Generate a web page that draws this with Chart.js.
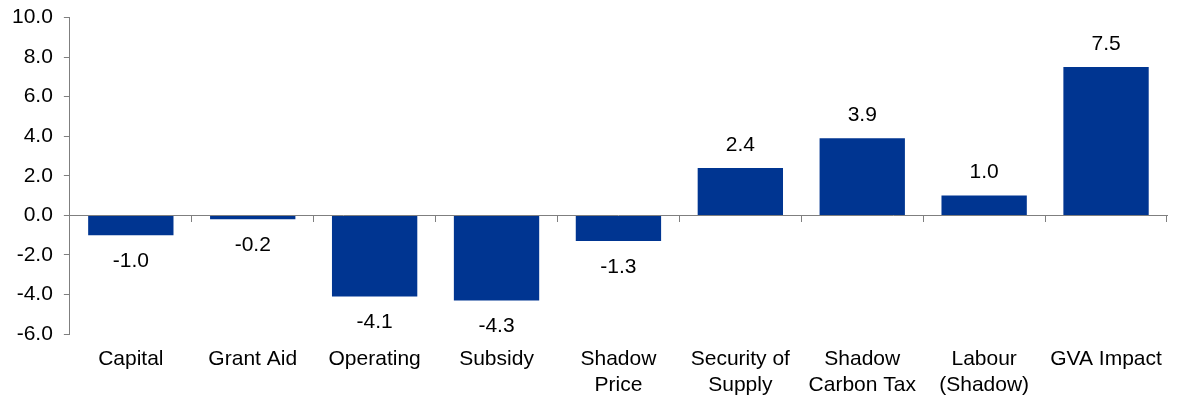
<!DOCTYPE html>
<html>
<head>
<meta charset="utf-8">
<script src="https://cdn.jsdelivr.net/npm/chart.js@4.4.1/dist/chart.umd.min.js"></script>
<style>
  html, body { margin: 0; padding: 0; background: #fff; }
  #wrap { width: 1180px; height: 396px; }
</style>
</head>
<body>
<div id="wrap"><canvas id="c" width="1180" height="396"></canvas></div>
<script>
const categories = [
  'Capital', 'Grant Aid', 'Operating', 'Subsidy', ['Shadow', 'Price'],
  ['Security of', 'Supply'], ['Shadow', 'Carbon Tax'], ['Labour', '(Shadow)'], 'GVA Impact'
];
const values = [-1.0, -0.2, -4.1, -4.3, -1.3, 2.4, 3.9, 1.0, 7.5];
const yMin = -6, yMax = 10, yStep = 2;

const FONT = { family: '"Liberation Sans", Arial, sans-serif', size: 21 };
const AXIS_GREY = '#7f7f7f';

const valueLabels = {
  id: 'valueLabels',
  afterDatasetsDraw(chart) {
    const ctx = chart.ctx;
    const meta = chart.getDatasetMeta(0);
    ctx.save();
    ctx.font = FONT.size + 'px ' + FONT.family;
    ctx.fillStyle = '#000';
    ctx.textAlign = 'center';
    ctx.textBaseline = 'middle';
    meta.data.forEach((el, i) => {
      const v = chart.data.datasets[0].data[i];
      const y = v >= 0 ? el.y - 23 : el.y + 26;
      ctx.fillText(v.toFixed(1), el.x, y);
    });
    ctx.restore();
  }
};

new Chart(document.getElementById('c'), {
  type: 'bar',
  data: {
    labels: categories,
    datasets: [{
      data: values,
      backgroundColor: '#003591',
      borderWidth: 0,
      barPercentage: 0.7,
      categoryPercentage: 1.0
    }]
  },
  options: {
    responsive: false,
    animation: false,
    events: [],
    layout: { padding: { left: 1, right: 13, top: 17.5, bottom: -14.5 } },
    plugins: { legend: { display: false }, tooltip: { enabled: false } },
    scales: {
      x: {
        type: 'category',
        position: { y: 0 },
        grid: { display: true, drawOnChartArea: false, drawTicks: true, tickLength: 6, tickColor: AXIS_GREY, offset: true },
        border: { display: true, color: AXIS_GREY, width: 1 },
        ticks: { display: false },
        afterFit(scale) { scale.height = 0; }
      },
      x2: {
        type: 'category',
        position: 'bottom',
        labels: categories,
        grid: { display: false, drawTicks: false },
        border: { display: false },
        ticks: { color: '#000', font: FONT, padding: 13, maxRotation: 0, autoSkip: false }
      },
      y: {
        min: yMin, max: yMax,
        grid: { display: true, drawOnChartArea: false, drawTicks: true, tickLength: 6, tickColor: AXIS_GREY },
        border: { display: true, color: AXIS_GREY, width: 1 },
        ticks: {
          stepSize: yStep, color: '#000', font: { family: FONT.family, size: FONT.size, lineHeight: 0.5 }, padding: 11,
          callback: (v) => Number(v).toFixed(1)
        }
      }
    }
  },
  plugins: [valueLabels]
});
</script>
</body>
</html>
